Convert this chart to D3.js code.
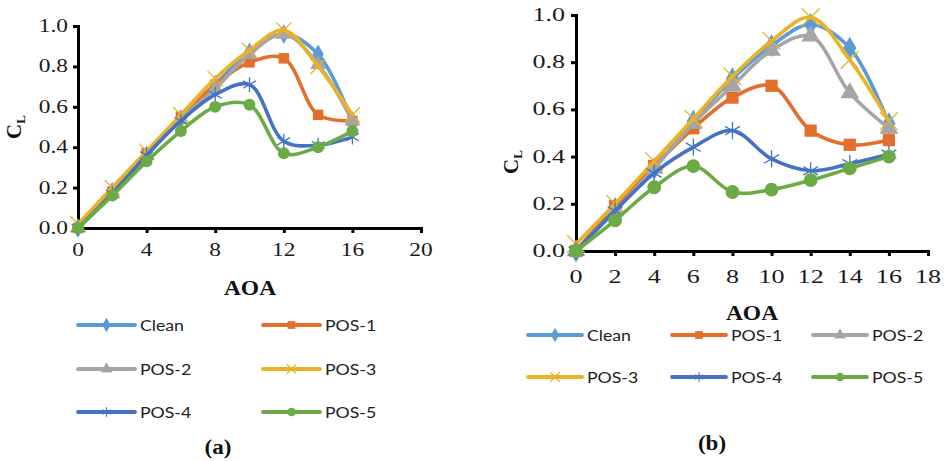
<!DOCTYPE html>
<html>
<head>
<meta charset="utf-8">
<script src="https://cdn.jsdelivr.net/npm/d3@7"></script>
<style>
  body { margin: 0; background: #fff; }
  svg { display: block; }
</style>
</head>
<body>
<script>
var w = 945;
var h = 461;

var aoa = [0, 2, 4, 6, 8, 10, 12, 14, 16];
var seriesNames = ["Clean", "POS-1", "POS-2", "POS-3", "POS-4", "POS-5"];
var yTickValues = [0, 0.2, 0.4, 0.6, 0.8, 1.0];
var xTicksA = [0, 4, 8, 12, 16, 20];
var xTicksB = [0, 2, 4, 6, 8, 10, 12, 14, 16, 18];

// panel (a)
var cleanA = [0, 0.18, 0.36, 0.54, 0.71, 0.87, 0.96, 0.86, 0.53];
var pos1A  = [0, 0.18, 0.37, 0.55, 0.71, 0.82, 0.84, 0.56, 0.53];
var pos2A  = [0, 0.17, 0.36, 0.54, 0.69, 0.86, 0.96, 0.81, 0.53];
var pos3A  = [0.02, 0.20, 0.38, 0.56, 0.74, 0.88, 0.98, 0.80, 0.56];
var pos4A  = [0, 0.17, 0.36, 0.53, 0.66, 0.71, 0.43, 0.41, 0.45];
var pos5A  = [0, 0.16, 0.33, 0.48, 0.60, 0.61, 0.37, 0.40, 0.48];

// panel (b)
var cleanB = [0, 0.18, 0.35, 0.55, 0.73, 0.87, 0.96, 0.86, 0.54];
var pos1B  = [0, 0.19, 0.36, 0.52, 0.65, 0.70, 0.51, 0.45, 0.47];
var pos2B  = [0, 0.17, 0.35, 0.54, 0.70, 0.85, 0.91, 0.67, 0.52];
var pos3B  = [0.03, 0.20, 0.38, 0.56, 0.74, 0.89, 0.99, 0.81, 0.55];
var pos4B  = [0, 0.17, 0.33, 0.44, 0.51, 0.39, 0.34, 0.37, 0.41];
var pos5B  = [0, 0.13, 0.27, 0.36, 0.25, 0.26, 0.30, 0.35, 0.40];

var colors = ["#5b9bd5", "#e2702c", "#a5a5a5", "#eab227", "#4472c4", "#6caa45"];
var symbols = [d3.symbolDiamond, d3.symbolSquare, d3.symbolTriangle, d3.symbolTimes, d3.symbolAsterisk, d3.symbolCircle];
var stroked = [false, false, false, true, true, false];

var svg = d3.select("body")
            .append("svg")
            .attr("width", w)
            .attr("height", h);

// text helper; the source picture is stretched sideways a bit
function label(g, x, y, txt, o) {
  var t = g.append("text")
           .attr("transform", "translate(" + x + "," + y + ") scale(" + (o.sx || 1) + ",1)")
           .attr("text-anchor", o.anchor || "start")
           .attr("dominant-baseline", "central")
           .attr("font-family", o.family || "'Liberation Serif', serif")
           .attr("font-size", o.size + "px")
           .attr("font-weight", o.weight || "normal")
           .attr("fill", o.fill || "#1a1a1a")
           .text(txt);
  return t;
}

function drawPanel(p) {
  var g = svg.append("g");

  var xScale = d3.scaleLinear().domain(p.xDomain).range(p.xRange);
  var yScale = d3.scaleLinear().domain([0, 1]).range(p.yRange);

  // axes
  var xAxis = d3.axisBottom(xScale).tickValues(p.xTicks).tickSize(5).tickFormat("");
  var yAxis = d3.axisLeft(yScale).tickValues(yTickValues).tickSize(5).tickFormat("");

  var gx = g.append("g").attr("transform", "translate(0," + p.yRange[0] + ")").call(xAxis);
  var gy = g.append("g").attr("transform", "translate(" + p.xRange[0] + ",0)").call(yAxis);
  [gx, gy].forEach(function(a) {
    a.select(".domain").attr("stroke", "#000").attr("stroke-width", 3);
    a.selectAll(".tick line").attr("stroke", "#000").attr("stroke-width", 3);
  });

  p.xTicks.forEach(function(d) {
    label(g, xScale(d), p.yRange[0] + p.xLabelOff, d, { size: 18, anchor: "middle", sx: p.sx });
  });
  yTickValues.forEach(function(d) {
    label(g, p.xRange[0] - p.yLabelOff, yScale(d), d.toFixed(1), { size: 18, anchor: "end", sx: p.sx });
  });

  // axis titles
  label(g, p.aoa[0], p.aoa[1], "AOA", { size: 21, anchor: "middle", weight: "bold", sx: 1.12, fill: "#111" });
  var cl = g.append("text")
            .attr("transform", "translate(" + p.cl[0] + "," + p.cl[1] + ") rotate(-90)")
            .attr("text-anchor", "middle")
            .attr("font-family", "'Liberation Serif', serif")
            .attr("font-weight", "bold")
            .attr("fill", "#111");
  cl.append("tspan").attr("font-size", "21px").text("C");
  cl.append("tspan").attr("font-size", "13px").attr("dy", 4).text("L");

  // series
  var line = d3.line()
               .x(function(d, i) { return xScale(aoa[i]); })
               .y(function(d) { return yScale(d); })
               .curve(d3.curveCatmullRom.alpha(0.5));

  p.series.forEach(function(s, k) {
    g.append("path")
     .attr("d", line(s))
     .attr("fill", "none")
     .attr("stroke", colors[k])
     .attr("stroke-width", 3.6)
     .attr("stroke-linejoin", "round");

    g.selectAll(".m" + k)
     .data(s)
     .enter()
     .append("path")
     .attr("transform", function(d, i) { return "translate(" + xScale(aoa[i]) + "," + yScale(d) + ")"; })
     .attr("d", d3.symbol().type(symbols[k]).size(stroked[k] ? p.msize * 1.4 : p.msize))
     .attr("fill", stroked[k] ? "none" : colors[k])
     .attr("stroke", stroked[k] ? colors[k] : "none")
     .attr("stroke-width", 1.3);
  });

  // legend
  seriesNames.forEach(function(name, k) {
    var col = k % p.legCols.length;
    var row = Math.floor(k / p.legCols.length);
    var lx = p.legCols[col];
    var ly = p.legRows[row];
    g.append("line")
     .attr("x1", lx).attr("x2", lx + p.legLen)
     .attr("y1", ly).attr("y2", ly)
     .attr("stroke", colors[k])
     .attr("stroke-width", 3.8)
     .attr("stroke-linecap", "round");
    g.append("path")
     .attr("transform", "translate(" + (lx + p.legLen / 2) + "," + ly + ")")
     .attr("d", d3.symbol().type(symbols[k]).size(60))
     .attr("fill", stroked[k] ? "none" : colors[k])
     .attr("stroke", stroked[k] ? colors[k] : "none")
     .attr("stroke-width", 1.2);
    label(g, lx + p.legLen + 5, ly, name, { size: 15, family: "Lato, sans-serif", sx: 1.18, fill: "#222" });
  });

  label(g, p.cap[0], p.cap[1], p.caption, { size: 21, anchor: "middle", weight: "bold", sx: 1.1, fill: "#111" });
}

drawPanel({
  xDomain: [0, 20], xRange: [78, 421], yRange: [228, 26], xTicks: xTicksA,
  xLabelOff: 22, yLabelOff: 10, sx: 1.3,
  aoa: [250, 288], cl: [21, 127],
  series: [cleanA, pos1A, pos2A, pos3A, pos4A, pos5A],
  msize: 110,
  legCols: [78, 263], legRows: [325, 369, 412], legLen: 57,
  caption: "(a)", cap: [218, 447]
});

drawPanel({
  xDomain: [0, 18], xRange: [576, 928], yRange: [251, 15], xTicks: xTicksB,
  xLabelOff: 26, yLabelOff: 11, sx: 1.45,
  aoa: [752, 313], cl: [518, 162],
  series: [cleanB, pos1B, pos2B, pos3B, pos4B, pos5B],
  msize: 150,
  legCols: [528, 672, 813], legRows: [335, 377], legLen: 54,
  caption: "(b)", cap: [712, 443]
});
</script>
</body>
</html>
